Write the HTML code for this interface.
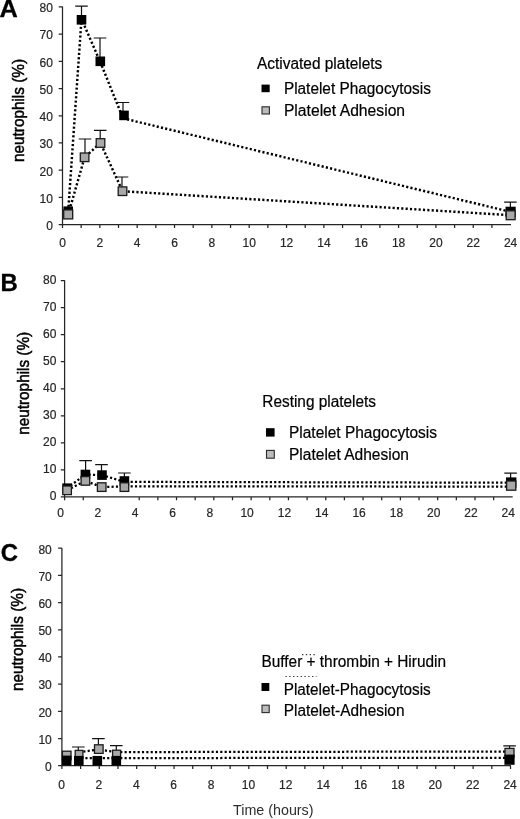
<!DOCTYPE html>
<html lang="en"><head><meta charset="utf-8"><title>Neutrophil–platelet time course</title>
<style>
html,body{margin:0;padding:0;background:#fff}
body{width:520px;height:819px;overflow:hidden}
svg{display:block;font-family:"Liberation Sans",Arial,Helvetica,sans-serif}
.tk{font-size:12px;fill:#262626;stroke:#262626;stroke-width:.2px}
.yl{font-size:16.2px;fill:#000;stroke:#000;stroke-width:.5px}
.pl{font-size:23px;font-weight:bold;fill:#000;stroke:#000;stroke-width:.3px}
.lg{font-size:15.8px;fill:#000;stroke:#000;stroke-width:.2px}
.xl{font-size:14.3px;fill:#2e2e2e}
.dl{fill:none;stroke:#000;stroke-width:2.25;stroke-dasharray:2.15 2.2}
.eb{fill:none;stroke:#111;stroke-width:1.2}
.dla{stroke-width:2.45}
.gl{fill:#bcbcbc;stroke:#2a2a2a;stroke-width:1.1}
.gm{fill:#a8a8a8;stroke:#1a1a1a;stroke-width:1.3}
.tl{fill:none;stroke:#3a3a3a;stroke-width:1.2;stroke-dasharray:1.4 2.4}
</style></head><body>
<svg width="520" height="819" viewBox="0 0 520 819">
<rect width="520" height="819" fill="#fff"/>
<g id="panelA">
<path d="M62.5 6.6000000000000005V224.6H511.0" fill="none" stroke="#262626" stroke-width="1.25"/>
<path d="M58.70 224.60H62.50M58.70 197.39H62.50M58.70 170.18H62.50M58.70 142.96H62.50M58.70 115.75H62.50M58.70 88.54H62.50M58.70 61.32H62.50M58.70 34.11H62.50M58.70 6.90H62.50M62.50 224.60V228.00M81.17 224.60V228.00M99.84 224.60V228.00M118.51 224.60V228.00M137.18 224.60V228.00M155.85 224.60V228.00M174.53 224.60V228.00M193.20 224.60V228.00M211.87 224.60V228.00M230.54 224.60V228.00M249.21 224.60V228.00M267.88 224.60V228.00M286.55 224.60V228.00M305.22 224.60V228.00M323.89 224.60V228.00M342.56 224.60V228.00M361.23 224.60V228.00M379.90 224.60V228.00M398.58 224.60V228.00M417.25 224.60V228.00M435.92 224.60V228.00M454.59 224.60V228.00M473.26 224.60V228.00M491.93 224.60V228.00" fill="none" stroke="#262626" stroke-width="1.25"/>
<text class="tk" x="52.9" y="229.9" text-anchor="end">0</text>
<text class="tk" x="52.9" y="202.7" text-anchor="end">10</text>
<text class="tk" x="52.9" y="175.5" text-anchor="end">20</text>
<text class="tk" x="52.9" y="148.3" text-anchor="end">30</text>
<text class="tk" x="52.9" y="121.0" text-anchor="end">40</text>
<text class="tk" x="52.9" y="93.8" text-anchor="end">50</text>
<text class="tk" x="52.9" y="66.6" text-anchor="end">60</text>
<text class="tk" x="52.9" y="39.4" text-anchor="end">70</text>
<text class="tk" x="52.9" y="12.2" text-anchor="end">80</text>
<text class="tk" x="62.5" y="247.3" text-anchor="middle">0</text>
<text class="tk" x="99.8" y="247.3" text-anchor="middle">2</text>
<text class="tk" x="137.2" y="247.3" text-anchor="middle">4</text>
<text class="tk" x="174.5" y="247.3" text-anchor="middle">6</text>
<text class="tk" x="211.9" y="247.3" text-anchor="middle">8</text>
<text class="tk" x="249.2" y="247.3" text-anchor="middle">10</text>
<text class="tk" x="286.6" y="247.3" text-anchor="middle">12</text>
<text class="tk" x="323.9" y="247.3" text-anchor="middle">14</text>
<text class="tk" x="361.2" y="247.3" text-anchor="middle">16</text>
<text class="tk" x="398.6" y="247.3" text-anchor="middle">18</text>
<text class="tk" x="435.9" y="247.3" text-anchor="middle">20</text>
<text class="tk" x="473.3" y="247.3" text-anchor="middle">22</text>
<text class="tk" x="510.6" y="247.3" text-anchor="middle">24</text>
<text class="yl" transform="translate(24.2 110.5) rotate(-90)" text-anchor="middle" textLength="103" lengthAdjust="spacingAndGlyphs">neutrophils (%)</text>
<text class="pl" style="font-size:24.4px" transform="translate(-0.6 17.3) scale(1.04 1)">A</text>
<path class="dl dla" d="M68.2 211.2L81.5 19.0L100.3 62.0L123.0 118.3L510.6 211.9"/>
<path class="dl dla" d="M68.2 214.6L84.6 157.3L100.5 143.0L122.5 191.2L510.6 215.2"/>
<path class="eb" d="M75.2 6.2H87.8M81.5 6.2V19.8"/>
<path class="eb" d="M93.7 38.0H106.3M100.0 38.0V61.3"/>
<path class="eb" d="M116.7 102.5H129.3M123.0 102.5V115.4"/>
<path class="eb" d="M504.1 202.1H516.7M510.4 202.1V211.8"/>
<rect x="63.4" y="206.4" width="9.6" height="9.6" fill="#000"/>
<rect x="76.7" y="15.0" width="9.6" height="9.6" fill="#000"/>
<rect x="95.5" y="56.5" width="9.6" height="9.6" fill="#000"/>
<rect x="119.2" y="110.6" width="9.6" height="9.6" fill="#000"/>
<rect x="505.5" y="206.7" width="10.2" height="10.2" fill="#000"/>
<path class="eb" d="M78.7 139.0H91.3M85.0 139.0V157.3"/>
<path class="eb" d="M93.9 130.4H106.5M100.2 130.4V143.0"/>
<path class="eb" d="M115.7 177.0H128.3M122.0 177.0V191.2"/>
<rect class="gm" x="80.3" y="153.0" width="8.6" height="8.6"/>
<rect class="gm" x="96.2" y="138.7" width="8.6" height="8.6"/>
<rect class="gm" x="118.2" y="186.9" width="8.6" height="8.6"/>
<rect class="gm" x="63.7" y="209.9" width="9.0" height="9.0"/>
<rect class="gm" x="506.2" y="210.8" width="8.9" height="8.9"/>
<text class="lg" x="257" y="68.6" textLength="125.3" lengthAdjust="spacingAndGlyphs">Activated platelets</text>
<rect x="261.5" y="84.6" width="8.2" height="7.6" fill="#000"/>
<text class="lg" x="283.9" y="93.7" textLength="147" lengthAdjust="spacingAndGlyphs">Platelet Phagocytosis</text>
<rect class="gl" x="262" y="106.8" width="7.4" height="7.2"/>
<text class="lg" x="283.9" y="115.7" textLength="121.2" lengthAdjust="spacingAndGlyphs">Platelet Adhesion</text>
</g>
<g id="panelB">
<path d="M64.6 280.3V496.9H512.6999999999999" fill="none" stroke="#262626" stroke-width="1.25"/>
<path d="M60.80 496.90H64.60M60.80 469.86H64.60M60.80 442.82H64.60M60.80 415.79H64.60M60.80 388.75H64.60M60.80 361.71H64.60M60.80 334.68H64.60M60.80 307.64H64.60M60.80 280.60H64.60M64.60 496.90V500.30M83.25 496.90V500.30M139.22 496.90V500.30M157.87 496.90V500.30M176.52 496.90V500.30M195.18 496.90V500.30M213.83 496.90V500.30M232.49 496.90V500.30M251.14 496.90V500.30M269.80 496.90V500.30M288.45 496.90V500.30M307.10 496.90V500.30M325.76 496.90V500.30M344.41 496.90V500.30M363.07 496.90V500.30M381.72 496.90V500.30M400.38 496.90V500.30M419.03 496.90V500.30M437.68 496.90V500.30M456.34 496.90V500.30M474.99 496.90V500.30M493.65 496.90V500.30" fill="none" stroke="#262626" stroke-width="1.25"/>
<text class="tk" x="56.4" y="500.2" text-anchor="end">0</text>
<text class="tk" x="56.4" y="473.2" text-anchor="end">10</text>
<text class="tk" x="56.4" y="446.1" text-anchor="end">20</text>
<text class="tk" x="56.4" y="419.1" text-anchor="end">30</text>
<text class="tk" x="56.4" y="392.1" text-anchor="end">40</text>
<text class="tk" x="56.4" y="365.0" text-anchor="end">50</text>
<text class="tk" x="56.4" y="338.0" text-anchor="end">60</text>
<text class="tk" x="56.4" y="310.9" text-anchor="end">70</text>
<text class="tk" x="56.4" y="283.9" text-anchor="end">80</text>
<text class="tk" x="60.6" y="517.0" text-anchor="middle">0</text>
<text class="tk" x="97.9" y="517.0" text-anchor="middle">2</text>
<text class="tk" x="135.2" y="517.0" text-anchor="middle">4</text>
<text class="tk" x="172.5" y="517.0" text-anchor="middle">6</text>
<text class="tk" x="209.8" y="517.0" text-anchor="middle">8</text>
<text class="tk" x="247.1" y="517.0" text-anchor="middle">10</text>
<text class="tk" x="284.4" y="517.0" text-anchor="middle">12</text>
<text class="tk" x="321.8" y="517.0" text-anchor="middle">14</text>
<text class="tk" x="359.1" y="517.0" text-anchor="middle">16</text>
<text class="tk" x="396.4" y="517.0" text-anchor="middle">18</text>
<text class="tk" x="433.7" y="517.0" text-anchor="middle">20</text>
<text class="tk" x="471.0" y="517.0" text-anchor="middle">22</text>
<text class="tk" x="508.3" y="517.0" text-anchor="middle">24</text>
<text class="yl" transform="translate(29.4 383.3) rotate(-90)" text-anchor="middle" textLength="103" lengthAdjust="spacingAndGlyphs">neutrophils (%)</text>
<text class="pl" style="font-size:23px" transform="translate(0.6 291.0) scale(1.04 1)">B</text>
<path class="dl" d="M67.1 488.2L85.4 474.5L102.0 475.1L124.4 481.9"/>
<path class="dl" d="M67.1 490.3L85.4 480.9L101.7 487.1L124.4 486.3"/>
<path class="dl" d="M511.2 482.7L124.4 481.9"/>
<path class="dl" d="M511.2 486.6L124.4 486.3"/>
<path class="eb" d="M79.3 460.6H91.9M85.6 460.6V474.5"/>
<path class="eb" d="M95.2 464.6H107.8M101.5 464.6V475.1"/>
<path class="eb" d="M118.1 473.0H130.7M124.4 473.0V481.0"/>
<path class="eb" d="M504.3 473.2H516.9M510.6 473.2V482.4"/>
<rect x="62.3" y="483.4" width="9.6" height="9.6" fill="#000"/>
<rect x="80.6" y="469.7" width="9.6" height="9.6" fill="#000"/>
<rect x="97.2" y="470.3" width="9.6" height="9.6" fill="#000"/>
<rect x="119.6" y="476.2" width="9.6" height="9.6" fill="#000"/>
<rect x="506.0" y="477.4" width="10.4" height="10.4" fill="#000"/>
<rect class="gm" x="62.8" y="486.0" width="8.6" height="8.6"/>
<rect class="gm" x="81.1" y="476.6" width="8.6" height="8.6"/>
<rect class="gm" x="97.4" y="482.8" width="8.6" height="8.6"/>
<rect class="gm" x="120.1" y="482.8" width="8.6" height="8.6"/>
<rect class="gm" x="506.6" y="481.0" width="9.2" height="9.2"/>
<text class="lg" x="262.3" y="407.1" textLength="113.7" lengthAdjust="spacingAndGlyphs">Resting platelets</text>
<rect x="266" y="428.2" width="8.6" height="8.4" fill="#000"/>
<text class="lg" x="289.0" y="438.3" textLength="148" lengthAdjust="spacingAndGlyphs">Platelet Phagocytosis</text>
<rect class="gl" x="266.5" y="450.4" width="7.8" height="7.8"/>
<text class="lg" x="289.0" y="459.6" textLength="120" lengthAdjust="spacingAndGlyphs">Platelet Adhesion</text>
</g>
<g id="panelC">
<path d="M61.9 547.9000000000001V765.7H510.9" fill="none" stroke="#262626" stroke-width="1.25"/>
<path d="M58.10 765.70H61.90M58.10 738.51H61.90M58.10 711.33H61.90M58.10 684.14H61.90M58.10 656.95H61.90M58.10 629.76H61.90M58.10 602.58H61.90M58.10 575.39H61.90M58.10 548.20H61.90M61.90 765.70V769.10M80.59 765.70V769.10M99.28 765.70V769.10M117.97 765.70V769.10M136.67 765.70V769.10M155.36 765.70V769.10M174.05 765.70V769.10M192.74 765.70V769.10M211.43 765.70V769.10M230.12 765.70V769.10M248.82 765.70V769.10M267.51 765.70V769.10M286.20 765.70V769.10M304.89 765.70V769.10M323.58 765.70V769.10M342.27 765.70V769.10M360.97 765.70V769.10M379.66 765.70V769.10M398.35 765.70V769.10M417.04 765.70V769.10M435.73 765.70V769.10M454.42 765.70V769.10M473.12 765.70V769.10M491.81 765.70V769.10M510.50 765.70V769.10" fill="none" stroke="#262626" stroke-width="1.25"/>
<text class="tk" x="51.8" y="771.0" text-anchor="end">0</text>
<text class="tk" x="51.8" y="743.8" text-anchor="end">10</text>
<text class="tk" x="51.8" y="716.6" text-anchor="end">20</text>
<text class="tk" x="51.8" y="689.4" text-anchor="end">30</text>
<text class="tk" x="51.8" y="662.2" text-anchor="end">40</text>
<text class="tk" x="51.8" y="635.1" text-anchor="end">50</text>
<text class="tk" x="51.8" y="607.9" text-anchor="end">60</text>
<text class="tk" x="51.8" y="580.7" text-anchor="end">70</text>
<text class="tk" x="51.8" y="553.5" text-anchor="end">80</text>
<text class="tk" x="61.5" y="788.5" text-anchor="middle">0</text>
<text class="tk" x="98.9" y="788.5" text-anchor="middle">2</text>
<text class="tk" x="136.3" y="788.5" text-anchor="middle">4</text>
<text class="tk" x="173.7" y="788.5" text-anchor="middle">6</text>
<text class="tk" x="211.0" y="788.5" text-anchor="middle">8</text>
<text class="tk" x="248.4" y="788.5" text-anchor="middle">10</text>
<text class="tk" x="285.8" y="788.5" text-anchor="middle">12</text>
<text class="tk" x="323.2" y="788.5" text-anchor="middle">14</text>
<text class="tk" x="360.6" y="788.5" text-anchor="middle">16</text>
<text class="tk" x="397.9" y="788.5" text-anchor="middle">18</text>
<text class="tk" x="435.3" y="788.5" text-anchor="middle">20</text>
<text class="tk" x="472.7" y="788.5" text-anchor="middle">22</text>
<text class="tk" x="510.1" y="788.5" text-anchor="middle">24</text>
<text class="yl" transform="translate(23.2 639.5) rotate(-90)" text-anchor="middle" textLength="103" lengthAdjust="spacingAndGlyphs">neutrophils (%)</text>
<text class="pl" style="font-size:23px" transform="translate(0.8 561.4) scale(1.04 1)">C</text>
<path class="dl" d="M79.0 752.1L98.8 749.6L116.3 752.1"/>
<path class="dl" d="M509.5 751.5L116.3 752.1"/>
<path class="dl" d="M509.5 757.8L78.8 758.1"/>
<path class="eb" d="M72.0 747.0H84.6M78.3 747.0V753.5"/>
<path class="eb" d="M92.1 738.7H104.7M98.4 738.7V749.1"/>
<path class="eb" d="M110.0 745.6H122.6M116.3 745.6V753.5"/>
<path class="eb" d="M503.3 745.8H515.9M509.6 745.8V752.6"/>
<rect class="gm" x="62.4" y="751.2" width="8.6" height="8.6"/>
<rect class="gm" x="75.2" y="750.4" width="7.7" height="7.7"/>
<rect class="gm" x="94.5" y="744.8" width="8.6" height="8.6"/>
<rect class="gm" x="112.6" y="750.2" width="8.0" height="8.0"/>
<rect class="gm" x="505.0" y="748.4" width="9.0" height="9.0"/>
<rect x="61.9" y="755.6" width="9.6" height="9.6" fill="#000"/>
<rect x="74.0" y="755.9" width="9.6" height="9.6" fill="#000"/>
<rect x="92.5" y="755.9" width="9.6" height="9.6" fill="#000"/>
<rect x="111.5" y="755.9" width="9.6" height="9.6" fill="#000"/>
<rect x="504.4" y="754.6" width="10.2" height="10.2" fill="#000"/>
<path class="tl" d="M302 654.6H316.5M285.4 676.5H316.5"/>
<text class="lg" x="261.5" y="667.1" textLength="184.5" lengthAdjust="spacingAndGlyphs">Buffer + thrombin + Hirudin</text>
<rect x="261.5" y="683.0" width="7.8" height="8.0" fill="#000"/>
<text class="lg" x="283.7" y="694.6" textLength="147" lengthAdjust="spacingAndGlyphs">Platelet-Phagocytosis</text>
<rect class="gl" x="262" y="705.2" width="7.2" height="7.4"/>
<text class="lg" x="283.7" y="716.2" textLength="120.8" lengthAdjust="spacingAndGlyphs">Platelet-Adhesion</text>
<text class="xl" x="233" y="815.4" textLength="80.5" lengthAdjust="spacingAndGlyphs">Time (hours)</text>
</g>
</svg>
</body></html>
